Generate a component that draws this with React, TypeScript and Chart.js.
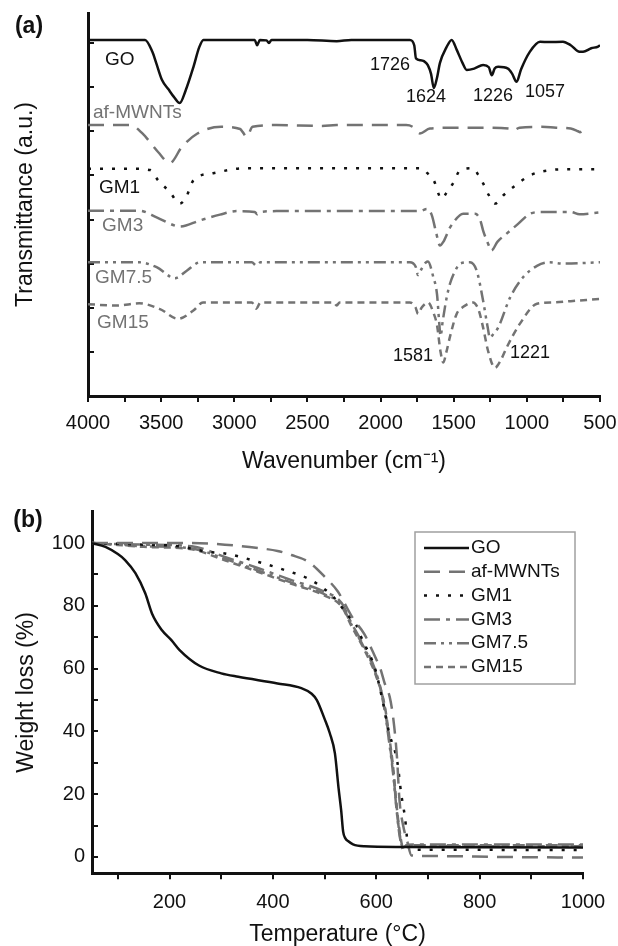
import React, { useEffect, useRef } from 'react';
import { Chart, registerables } from 'chart.js';

Chart.register(...registerables);

const FONT = "'Liberation Sans', Arial, Helvetica, sans-serif";
const INK = '#111111';
const GREY = '#737373';

// ---------- Panel (a): FTIR spectra (wavenumber, stacked transmittance a.u.) ----------
const GO_WAVE = [4000, 3700, 3610, 3560, 3534, 3494, 3450, 3413, 3373, 3332, 3279, 3240, 3211, 3000, 2860, 2844, 2825, 2780, 2763, 2745, 2500, 2300, 2200, 1800, 1770, 1758, 1726, 1704, 1677, 1655, 1636, 1615, 1594, 1550, 1514, 1480, 1440, 1411, 1360, 1299, 1260, 1240, 1220, 1196, 1129, 1100, 1070, 1040, 980, 910, 850, 753, 700, 640, 616, 560, 513, 500];
const GO_TRANS = [8.07, 8.07, 8.07, 7.8, 7.55, 7.16, 6.95, 6.78, 6.64, 6.93, 7.46, 7.9, 8.07, 8.07, 8.07, 7.95, 8.07, 8.06, 8.0, 8.07, 8.07, 8.04, 8.07, 8.07, 7.95, 7.65, 7.61, 7.59, 7.5, 7.3, 6.98, 7.2, 7.55, 7.9, 8.07, 7.85, 7.55, 7.39, 7.42, 7.5, 7.45, 7.27, 7.42, 7.46, 7.42, 7.3, 7.12, 7.4, 7.8, 8.03, 8.02, 8.03, 7.95, 7.8, 7.8, 7.88, 7.92, 7.95];

const AF_WAVE = [4000, 3709, 3628, 3521, 3440, 3359, 3252, 3090, 2960, 2942, 2915, 2875, 2713, 2400, 2300, 1825, 1780, 1731, 1663, 1500, 1300, 1100, 1094, 1050, 900, 800, 700, 650, 637, 610];
const AF_TRANS = [6.14, 6.14, 5.95, 5.53, 5.28, 5.64, 5.95, 6.1, 6.05, 5.98, 5.87, 6.1, 6.14, 6.12, 6.14, 6.14, 6.1, 5.95, 6.06, 6.08, 6.08, 6.05, 6.02, 6.08, 6.1, 6.08, 6.06, 6.0, 5.98, 6.05];

const GM1_WAVE = [4000, 3700, 3575, 3521, 3440, 3373, 3330, 3279, 3144, 2929, 2500, 1717, 1680, 1637, 1583, 1550, 1505, 1457, 1368, 1330, 1299, 1260, 1218, 1160, 1094, 978, 862, 700, 500];
const GM1_TRANS = [5.15, 5.15, 5.12, 4.89, 4.62, 4.36, 4.5, 4.89, 5.05, 5.16, 5.16, 5.16, 5.05, 4.89, 4.47, 4.6, 4.82, 5.11, 5.16, 5.0, 4.82, 4.55, 4.36, 4.55, 4.73, 5.0, 5.11, 5.14, 5.14];

const GM3_WAVE = [4000, 3650, 3531, 3405, 3371, 3234, 3098, 2981, 2860, 2844, 2825, 2700, 1780, 1720, 1685, 1650, 1620, 1594, 1570, 1525, 1457, 1435, 1354, 1320, 1299, 1265, 1242, 1200, 1138, 1060, 978, 900, 700, 640, 500];
const GM3_TRANS = [4.2, 4.2, 4.05, 3.86, 3.84, 3.98, 4.11, 4.19, 4.17, 4.12, 4.17, 4.19, 4.19, 4.2, 4.24, 4.1, 3.7, 3.41, 3.5, 3.82, 4.1, 4.13, 4.13, 4.0, 3.75, 3.45, 3.3, 3.5, 3.68, 3.9, 4.13, 4.17, 4.17, 4.12, 4.16];

const GM75_WAVE = [4000, 3650, 3531, 3405, 3325, 3234, 2880, 2850, 2820, 1800, 1760, 1744, 1725, 1690, 1676, 1640, 1614, 1600, 1590, 1575, 1550, 1525, 1480, 1457, 1389, 1343, 1299, 1270, 1252, 1230, 1196, 1115, 1026, 931, 850, 750, 500];
const GM75_TRANS = [3.03, 3.03, 2.92, 2.67, 2.84, 3.03, 3.03, 2.96, 3.03, 3.03, 2.93, 2.74, 2.85, 3.03, 3.05, 2.7, 2.3, 1.7, 1.36, 1.7, 2.2, 2.55, 2.9, 3.0, 3.03, 2.84, 2.16, 1.6, 1.32, 1.4, 1.55, 2.23, 2.69, 2.95, 3.03, 3.0, 3.03];

const GM15_WAVE = [4000, 3800, 3650, 3508, 3385, 3282, 3214, 2880, 2850, 2820, 2320, 2300, 2280, 1800, 1760, 1744, 1720, 1690, 1676, 1640, 1614, 1590, 1571, 1550, 1525, 1480, 1435, 1368, 1330, 1299, 1265, 1218, 1180, 1138, 1047, 931, 821, 700, 500];
const GM15_TRANS = [2.08, 2.05, 2.1, 1.97, 1.75, 1.93, 2.12, 2.12, 1.98, 2.12, 2.12, 2.05, 2.12, 2.12, 2.0, 1.86, 2.0, 2.1, 2.12, 1.9, 1.6, 1.0, 0.76, 1.0, 1.35, 1.86, 2.02, 2.12, 1.95, 1.55, 1.02, 0.64, 0.8, 1.1, 1.64, 2.09, 2.12, 2.15, 2.2];

const FTIR_TICKS = [4000, 3750, 3500, 3250, 3000, 2750, 2500, 2250, 2000, 1750, 1500, 1250, 1000, 750, 500];
const FTIR_Y_TICKS = [1, 2, 3, 4, 5, 6, 7, 8];

// curve names (one per dataset) and where they are written (data units)
const SAMPLE_NAMES = ['GO', 'af-MWNTs', 'GM1', 'GM3', 'GM7.5', 'GM15'];
const NAME_WAVE = [3884, 3966, 3925, 3904, 3952, 3938];
const NAME_TRANS = [7.61, 6.41, 4.73, 3.86, 2.68, 1.66];

// peak annotations
const PEAK_TEXT = ['1726', '1624', '1226', '1057', '1581', '1221'];
const PEAK_WAVE = [1935, 1689, 1231, 876, 1778, 978];
const PEAK_TRANS = [7.5, 6.77, 6.8, 6.89, 0.91, 0.98];

// ---------- Panel (b): TGA ----------
const GO_TEMP = [50, 76, 100, 114, 134, 153, 166, 185, 204, 219, 257, 300, 333, 409, 455, 475, 485, 500, 510, 520, 527, 532, 536, 540, 546, 555, 577, 650, 800, 1000];
const GO_WEIGHT = [100, 98.8, 96.5, 94.6, 90.4, 84, 77.6, 72.3, 69, 66, 61, 58.5, 57.4, 55.3, 53.8, 52, 50, 44, 39.5, 33, 22, 15, 8, 6, 5, 4, 3.4, 3.2, 3.1, 3.0];

const AF_TEMP = [50, 150, 243, 307, 372, 409, 436, 468, 500, 526, 538, 555, 577, 600, 607, 616, 626, 633, 640, 645, 652, 660, 668, 700, 850, 1000];
const AF_WEIGHT = [100, 100, 100, 99.5, 98.4, 97.5, 96.2, 94.1, 89.3, 84.5, 81, 76, 71, 63, 60.5, 55.5, 51, 44, 32, 18, 10, 5, 0.5, 0.3, 0, -0.2];

const GM1_TEMP = [50, 150, 217, 275, 307, 372, 423, 468, 510, 523, 545, 561, 571, 592, 597, 612, 625, 641, 648, 656, 660, 665, 700, 1000];
const GM1_WEIGHT = [100, 99.5, 99, 97.2, 96.7, 94, 91.4, 88.7, 84, 81.8, 77, 74, 70, 62.7, 60.5, 50, 39.5, 30, 20.4, 12, 5.4, 2.5, 2.3, 2.2];

const GMX_TEMP = [50, 100, 150, 243, 307, 372, 436, 500, 533, 552, 577, 600, 616, 625, 633, 639, 645, 652, 660, 700, 1000];
const GM3_WEIGHT = [100, 99.7, 99.5, 99, 95.6, 92, 88.2, 84.5, 80.9, 74.5, 67, 58.6, 47.8, 37.3, 26.8, 16, 7.6, 3, 3.9, 4, 4];
const GM75_WEIGHT = [100, 99.5, 99, 98.3, 95, 91.2, 87.4, 83.7, 80.2, 74, 66.5, 58, 47, 36.5, 26, 15.5, 7, 2.5, 3.7, 3.7, 3.7];
const GM15_WEIGHT = [100, 99.4, 98.8, 98, 94.5, 90.8, 87, 83.3, 79.8, 73.6, 66, 57.5, 48.5, 38.5, 28, 17, 8.5, 3, 3.4, 3.4, 3.4];

const TGA_X_TICKS = [100, 200, 300, 400, 500, 600, 700, 800, 900, 1000];
const TGA_Y_TICKS = [0, 10, 20, 30, 40, 50, 60, 70, 80, 90, 100];

// ---------- styles ----------
const COLORS = [INK, GREY, INK, GREY, GREY, GREY];
const DASHES: number[][] = [[], [16, 9], [3, 9], [16, 6, 4, 6], [12, 5, 3, 5, 3, 5], [7, 5]];

const series = (xs: number[], ys: number[]) => xs.map((x, i) => ({ x, y: ys[i] }));

const makeDataset = (i: number, xs: number[], ys: number[]) => ({
  label: SAMPLE_NAMES[i],
  data: series(xs, ys),
  borderColor: COLORS[i],
  backgroundColor: COLORS[i],
  borderWidth: 2.5,
  borderDash: DASHES[i],
  borderCapStyle: 'butt',
  pointRadius: 0,
  fill: false,
  cubicInterpolationMode: 'monotone',
});

const textPlugin = {
  id: 'texts',
  afterDraw(chart: any, _args: any, opts: any) {
    const { ctx, scales } = chart;
    ctx.save();
    (opts.items || []).forEach((it: any) => {
      ctx.font = `${it.weight || 'normal'} ${it.size}px ${FONT}`;
      ctx.fillStyle = it.color || INK;
      ctx.textAlign = it.align || 'center';
      ctx.textBaseline = 'middle';
      const x = it.px !== undefined ? it.px : scales.x.getPixelForValue(it.x);
      const y = it.py !== undefined ? it.py : scales.y.getPixelForValue(it.y);
      ctx.fillText(it.text, x, y);
    });
    ctx.restore();
  },
};

const boxLegendPlugin = {
  id: 'boxLegend',
  afterDraw(chart: any, _args: any, opts: any) {
    if (!opts || !opts.show) return;
    const { ctx } = chart;
    ctx.save();
    ctx.fillStyle = '#ffffff';
    ctx.fillRect(opts.left, opts.top, opts.width, opts.height);
    ctx.strokeStyle = '#a0a0a0';
    ctx.lineWidth = 1.5;
    ctx.strokeRect(opts.left, opts.top, opts.width, opts.height);
    chart.data.datasets.forEach((ds: any, i: number) => {
      const y = opts.top + opts.first + i * opts.gap;
      ctx.setLineDash(ds.borderDash || []);
      ctx.strokeStyle = ds.borderColor;
      ctx.lineWidth = ds.borderWidth;
      ctx.beginPath();
      ctx.moveTo(opts.left + 9, y);
      ctx.lineTo(opts.left + 54, y);
      ctx.stroke();
      ctx.setLineDash([]);
      ctx.fillStyle = INK;
      ctx.font = `${opts.size}px ${FONT}`;
      ctx.textAlign = 'left';
      ctx.textBaseline = 'middle';
      ctx.fillText(ds.label, opts.left + 56, y);
    });
    ctx.restore();
  },
};

const axisGrid = (len: number) => ({
  display: true,
  drawOnChartArea: false,
  drawTicks: true,
  tickLength: len,
  color: INK,
  lineWidth: 2,
});
const axisBorder = { display: true, color: INK, width: 3 };
const titleFont = { family: FONT, size: 23, lineHeight: 1 };

const fixHeight = (h: number) => (s: any) => {
  s.height = h;
  s.paddingLeft = 0;
  s.paddingRight = 0;
};
const fixWidth = (w: number) => (s: any) => {
  s.width = w;
  s.paddingTop = 0;
  s.paddingBottom = 0;
};

function buildFtir(canvas: HTMLCanvasElement) {
  const datasets = [
    makeDataset(0, GO_WAVE, GO_TRANS),
    makeDataset(1, AF_WAVE, AF_TRANS),
    makeDataset(2, GM1_WAVE, GM1_TRANS),
    makeDataset(3, GM3_WAVE, GM3_TRANS),
    makeDataset(4, GM75_WAVE, GM75_TRANS),
    makeDataset(5, GM15_WAVE, GM15_TRANS),
  ];
  const items: any[] = [{ text: '(a)', px: 29, py: 27, size: 23, weight: 'bold', align: 'center' }];
  SAMPLE_NAMES.forEach((name, i) =>
    items.push({ text: name, x: NAME_WAVE[i], y: NAME_TRANS[i], size: 19, align: 'left', color: COLORS[i] })
  );
  PEAK_TEXT.forEach((t, i) => items.push({ text: t, x: PEAK_WAVE[i], y: PEAK_TRANS[i], size: 18, align: 'center' }));

  return new Chart(canvas, {
    type: 'line',
    data: { datasets } as any,
    plugins: [textPlugin],
    options: {
      responsive: false,
      animation: false,
      events: [],
      layout: { padding: { left: 0, right: 18, top: 13, bottom: 0 } },
      plugins: {
        legend: { display: false },
        tooltip: { enabled: false },
        texts: { items },
      } as any,
      scales: {
        x: {
          type: 'linear',
          min: 500,
          max: 4000,
          reverse: true,
          afterBuildTicks: (s: any) => {
            s.ticks = FTIR_TICKS.map((v) => ({ value: v }));
          },
          afterFit: fixHeight(84),
          ticks: {
            autoSkip: false,
            maxRotation: 0,
            padding: 9,
            color: INK,
            font: { family: FONT, size: 20 },
            callback: (v: any) => (Number(v) % 500 === 0 ? String(v) : ''),
          },
          grid: axisGrid(6),
          border: axisBorder,
          title: {
            display: true,
            text: 'Wavenumber (cm\u207B\u00B9)',
            color: INK,
            font: titleFont,
            padding: { top: 0, bottom: 6.5 },
          },
        },
        y: {
          type: 'linear',
          min: 0,
          max: 8.68,
          afterBuildTicks: (s: any) => {
            s.ticks = FTIR_Y_TICKS.map((v) => ({ value: v }));
          },
          afterFit: fixWidth(88),
          ticks: { display: false },
          grid: axisGrid(-6),
          border: axisBorder,
          title: {
            display: true,
            text: 'Transmittance (a.u.)',
            color: INK,
            font: titleFont,
            padding: { top: 14.5, bottom: 0 },
          },
        },
      },
    } as any,
  });
}

function buildTga(canvas: HTMLCanvasElement) {
  const datasets = [
    makeDataset(0, GO_TEMP, GO_WEIGHT),
    makeDataset(1, AF_TEMP, AF_WEIGHT),
    makeDataset(2, GM1_TEMP, GM1_WEIGHT),
    makeDataset(3, GMX_TEMP, GM3_WEIGHT),
    makeDataset(4, GMX_TEMP, GM75_WEIGHT),
    makeDataset(5, GMX_TEMP, GM15_WEIGHT),
  ];
  return new Chart(canvas, {
    type: 'line',
    data: { datasets } as any,
    plugins: [textPlugin, boxLegendPlugin],
    options: {
      responsive: false,
      animation: false,
      events: [],
      layout: { padding: { left: 0, right: 35, top: 31.7, bottom: 0 } },
      plugins: {
        legend: { display: false },
        tooltip: { enabled: false },
        texts: { items: [{ text: '(b)', px: 28, py: 41, size: 23, weight: 'bold', align: 'center' }] },
        boxLegend: { show: true, left: 415, top: 52, width: 160, height: 152, first: 16, gap: 23.8, size: 19 },
      } as any,
      scales: {
        x: {
          type: 'linear',
          min: 50,
          max: 1000,
          afterBuildTicks: (s: any) => {
            s.ticks = TGA_X_TICKS.map((v) => ({ value: v }));
          },
          afterFit: fixHeight(72.7),
          ticks: {
            autoSkip: false,
            maxRotation: 0,
            padding: 11,
            color: INK,
            font: { family: FONT, size: 20 },
            callback: (v: any) => (Number(v) % 200 === 0 ? String(v) : ''),
          },
          grid: axisGrid(6),
          border: axisBorder,
          title: {
            display: true,
            text: 'Temperature (\u00B0C)',
            color: INK,
            font: titleFont,
            padding: { top: 0, bottom: 0 },
          },
        },
        y: {
          type: 'linear',
          min: -5.2,
          max: 110,
          afterBuildTicks: (s: any) => {
            s.ticks = TGA_Y_TICKS.map((v) => ({ value: v }));
          },
          afterFit: fixWidth(92),
          ticks: {
            autoSkip: false,
            padding: 13,
            color: INK,
            font: { family: FONT, size: 20 },
            callback: (v: any) => (Number(v) % 20 === 0 ? String(v) : ''),
          },
          grid: axisGrid(-6),
          border: axisBorder,
          title: {
            display: true,
            text: 'Weight loss (%)',
            color: INK,
            font: titleFont,
            padding: { top: 15.5, bottom: 0 },
          },
        },
      },
    } as any,
  });
}

export default function App() {
  const refA = useRef<HTMLCanvasElement>(null);
  const refB = useRef<HTMLCanvasElement>(null);

  useEffect(() => {
    const a = refA.current ? buildFtir(refA.current) : null;
    const b = refB.current ? buildTga(refB.current) : null;
    return () => {
      if (a) a.destroy();
      if (b) b.destroy();
    };
  }, []);

  return (
    <div style={{ position: 'absolute', left: 0, top: 0, width: 618, height: 946, background: '#ffffff' }}>
      <canvas ref={refA} width={618} height={480} style={{ position: 'absolute', left: 0, top: 0, width: 618, height: 480 }} />
      <canvas ref={refB} width={618} height={466} style={{ position: 'absolute', left: 0, top: 480, width: 618, height: 466 }} />
    </div>
  );
}
